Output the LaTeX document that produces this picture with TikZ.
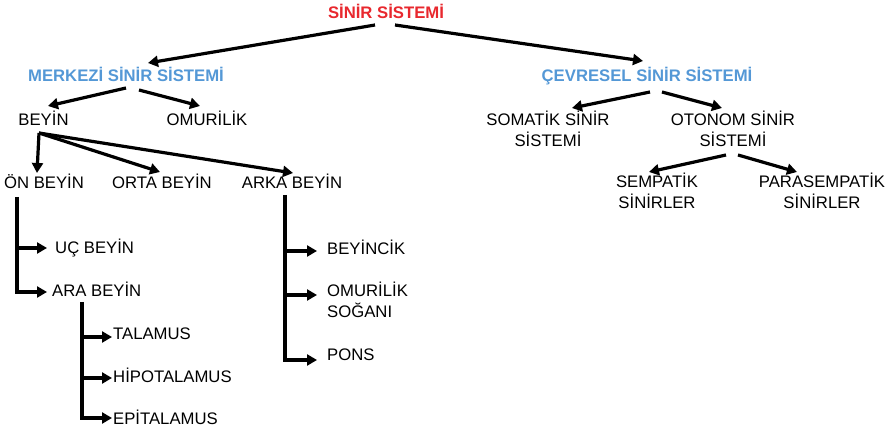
\documentclass[tikz,border=0pt]{standalone}
\usepackage{fontspec}
\setmainfont{Liberation Sans}
\usetikzlibrary{arrows.meta}
\definecolor{titlered}{RGB}{232,40,46}
\definecolor{titleblue}{RGB}{84,152,214}
\tikzset{
  lbl/.style={inner sep=0pt, anchor=base, font=\fontsize{16.7}{21}\selectfont, align=center},
  lblw/.style={lbl, anchor=base west, align=left},
  head/.style={lbl, font=\fontsize{16.7}{21}\selectfont\bfseries},
  conn/.style={line width=3.2pt, -{Triangle[length=10pt,width=11pt]}},
}
\begin{document}
\begin{tikzpicture}[x=1pt,y=-1pt]
\useasboundingbox (0,0) rectangle (895,435);

% ---- headings ----
\node[head, text=titlered]  (root) at (386,18.5) {SİNİR SİSTEMİ};
\node[head, text=titleblue] (mss)  at (126,82)   {MERKEZİ SİNİR SİSTEMİ};
\node[head, text=titleblue] (css)  at (647,82)   {ÇEVRESEL SİNİR SİSTEMİ};

% ---- central nervous system ----
% (multi-line nodes sit on the baseline of their last line)
\node[lbl] (beyin)  at (43.5,126) {BEYİN};
\node[lbl] (omur)   at (207,126)  {OMURİLİK};
\node[lbl] (on)     at (44,189)   {ÖN BEYİN};
\node[lbl] (orta)   at (162,189)  {ORTA BEYİN};
\node[lbl] (arka)   at (292,189)  {ARKA BEYİN};
\node[lblw] (uc)    at (55,254)   {UÇ BEYİN};
\node[lblw] (ara)   at (52,297)   {ARA BEYİN};
\node[lblw] (tal)   at (113,340)  {TALAMUS};
\node[lblw] (hipo)  at (113,383)  {HİPOTALAMUS};
\node[lblw] (epi)   at (113,425)  {EPİTALAMUS};
\node[lblw] (bcik)  at (327,255)  {BEYİNCİK};
\node[lblw] (sogan) at (327,318)  {OMURİLİK\\SOĞANI};
\node[lblw] (pons)  at (327,361)  {PONS};

% ---- peripheral nervous system ----
\node[lbl] (som)  at (548,147) {SOMATİK SİNİR\\SİSTEMİ};
\node[lbl] (oto)  at (733,147) {OTONOM SİNİR\\SİSTEMİ};
\node[lbl] (semp) at (657,209) {SEMPATİK\\SİNİRLER};
\node[lbl] (para) at (822,209) {PARASEMPATİK\\SİNİRLER};

% ---- top level connectors ----
\draw[conn] ([shift={(-11,6.5)}]root.base) -- ([shift={(22,-19)}]mss.base);
\draw[conn] ([shift={(9,6.5)}]root.base)   -- ([shift={(-4,-21)}]css.base);

\draw[conn] ([shift={(0,6)}]mss.base)  -- ([shift={(4.5,-20)}]beyin.base);
\draw[conn] ([shift={(13,8)}]mss.base) -- ([shift={(-7,-20)}]omur.base);

\draw[conn] ([shift={(3,10)}]css.base)  -- ([shift={(24,-39)}]som.base);
\draw[conn] ([shift={(15,10)}]css.base) -- ([shift={(-11,-39)}]oto.base);

\draw[conn] ([shift={(-7,8)}]oto.base) -- ([shift={(-8,-37)}]semp.base);
\draw[conn] ([shift={(5,8)}]oto.base)  -- ([shift={(-25,-37)}]para.base);

% ---- brain subdivisions ----
\coordinate (bfork) at ([shift={(-4.5,7)}]beyin.base);
\draw[conn] (bfork) -- ([shift={(-7,-16)}]on.base);
\draw[conn] (bfork) -- ([shift={(-2,-17)}]orta.base);
\draw[conn] (bfork) -- ([shift={(1,-16)}]arka.base);

% forebrain branch
\coordinate (ontop) at ([shift={(-27,8)}]on.base);
\coordinate (uctip) at ([shift={(-8,-6)}]uc.base west);
\coordinate (aratip) at ([shift={(-5,-5)}]ara.base west);
\draw[conn] (ontop) |- (aratip);
\draw[conn] (ontop |- uctip) -- (uctip);

% diencephalon branch
\coordinate (aratop) at ([shift={(30,5)}]ara.base west);
\coordinate (taltip)  at ([shift={(-1,-3)}]tal.base west);
\coordinate (hipotip) at ([shift={(-1,-5)}]hipo.base west);
\coordinate (epitip)  at ([shift={(-1,-7)}]epi.base west);
\draw[conn] (aratop) |- (epitip);
\draw[conn] (aratop |- taltip) -- (taltip);
\draw[conn] (aratop |- hipotip) -- (hipotip);

% hindbrain branch
\coordinate (arkatop) at ([shift={(-7,6)}]arka.base);
\coordinate (bciktip) at ([shift={(-10,-4)}]bcik.base west);
\coordinate (sogantip) at ([shift={(-10,-23)}]sogan.base west);
\coordinate (ponstip) at ([shift={(-10,-1)}]pons.base west);
\draw[conn] (arkatop) |- (ponstip);
\draw[conn] (arkatop |- bciktip) -- (bciktip);
\draw[conn] (arkatop |- sogantip) -- (sogantip);
\end{tikzpicture}
\end{document}
